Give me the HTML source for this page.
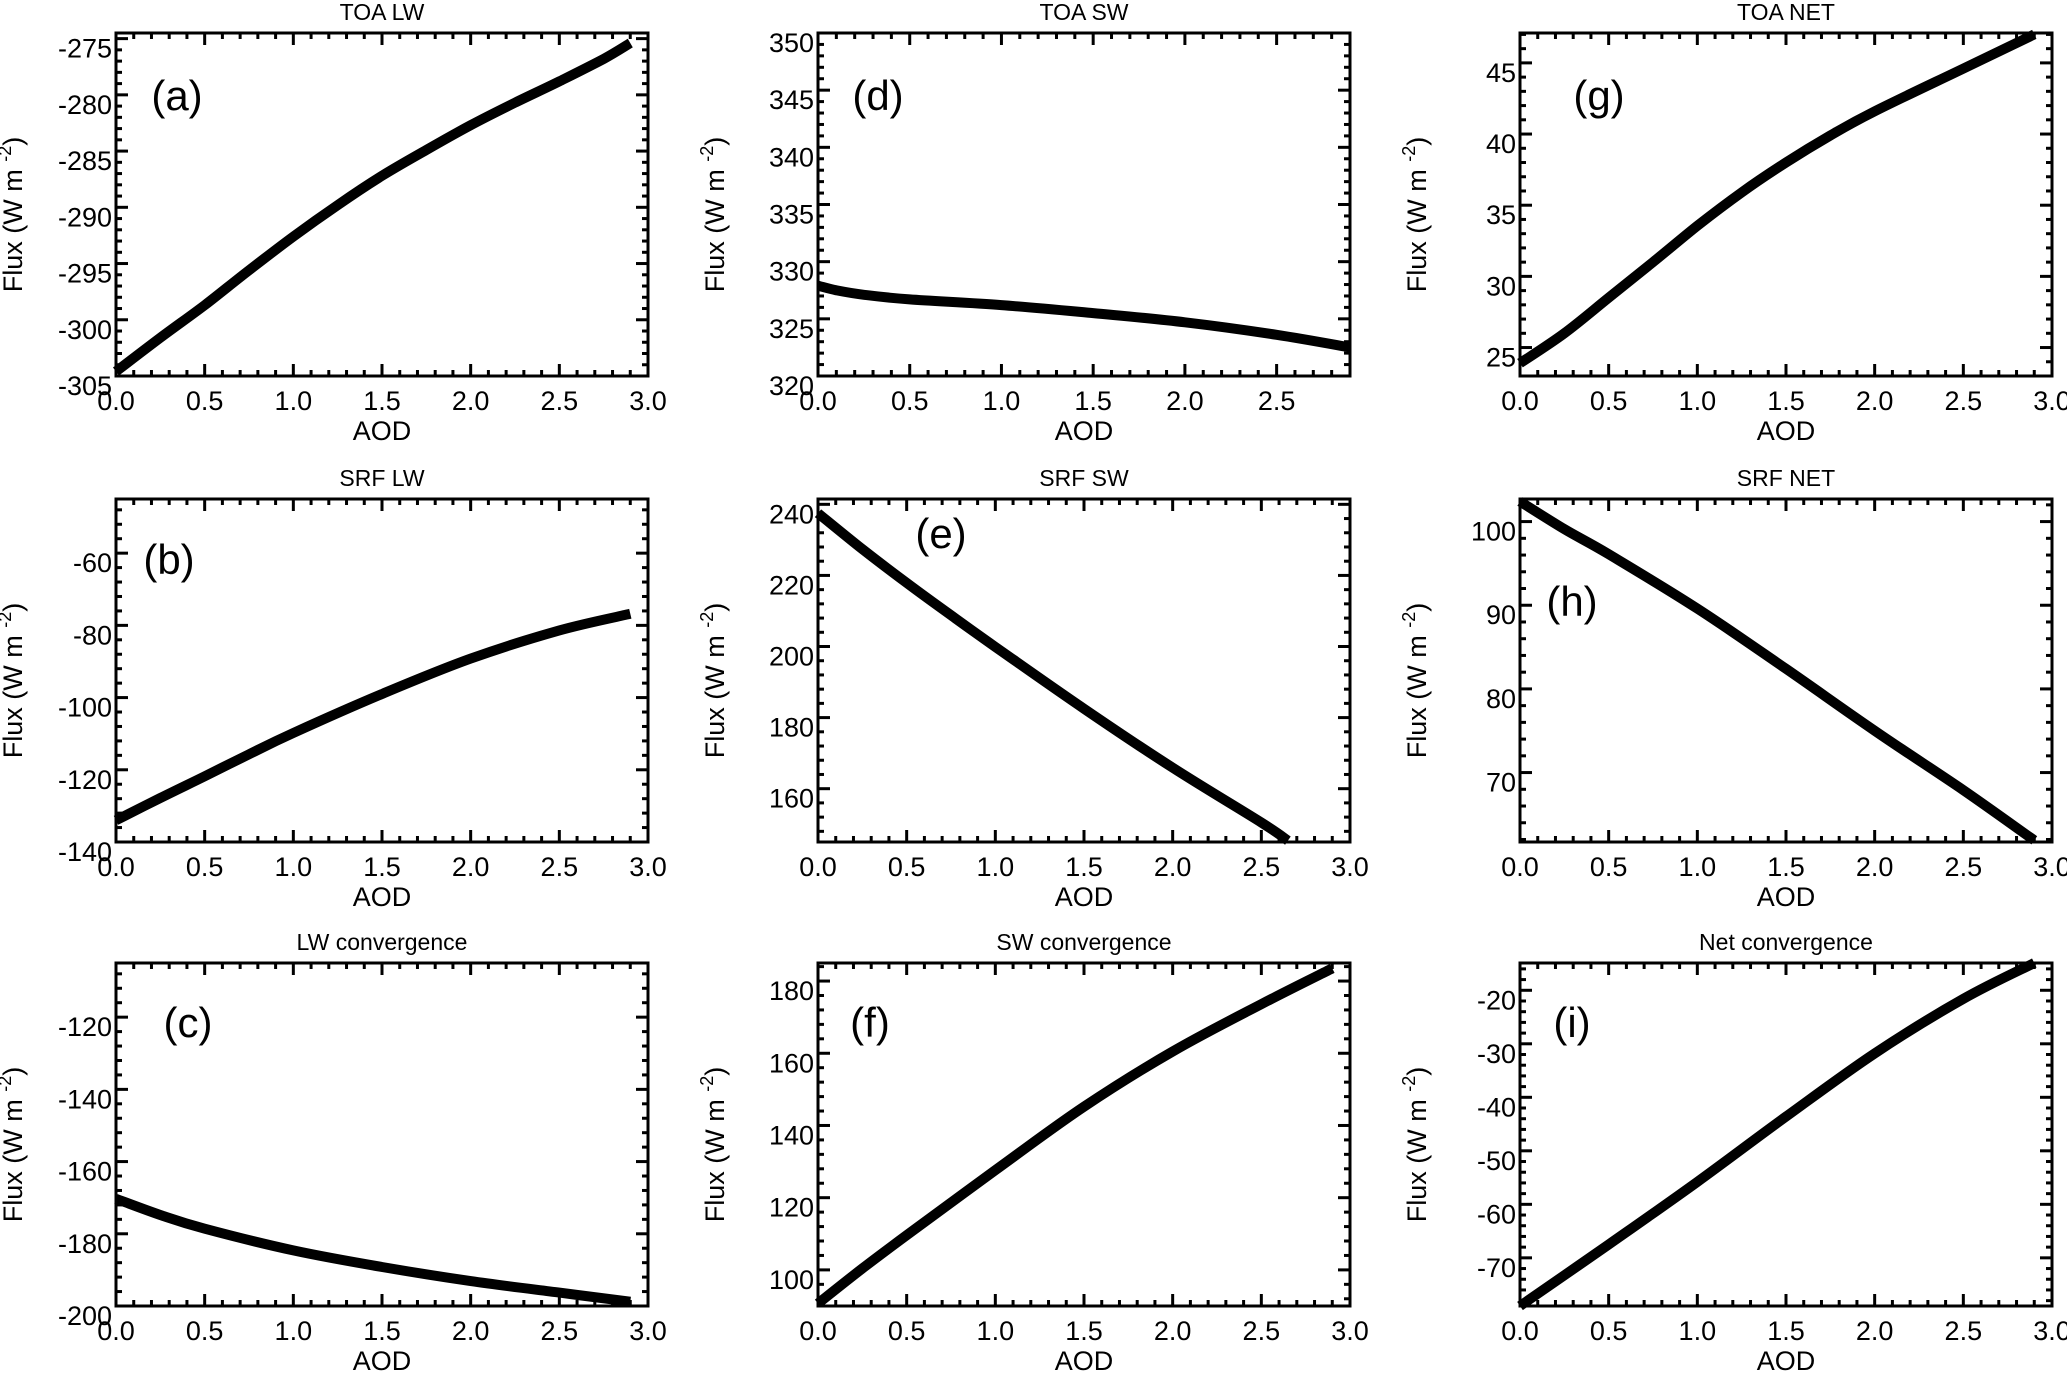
<!DOCTYPE html>
<html><head><meta charset="utf-8"><style>
html,body{margin:0;padding:0;background:#fff;}
svg{display:block;font-family:"Liberation Sans",Arial,sans-serif;}
</style></head><body>
<svg id="fig" width="2067" height="1373" viewBox="0 0 2067 1373"></svg>
<script>
const aodA=[0,0.25,0.5,0.75,1.0,1.25,1.5,1.75,2.0,2.25,2.5,2.75,2.9];
const fluxA=[-304.6,-301.6,-298.7,-295.6,-292.6,-289.8,-287.2,-284.9,-282.7,-280.7,-278.8,-276.8,-275.4];
const aodB=[0,0.25,0.5,0.75,1.0,1.5,2.0,2.5,2.9];
const fluxB=[-134.0,-127.8,-121.8,-115.7,-109.8,-99.0,-89.2,-81.4,-76.8];
const aodC=[0,0.25,0.5,1.0,1.5,2.0,2.5,2.9];
const fluxC=[-170.3,-174.8,-178.6,-184.6,-189.2,-193.1,-196.3,-198.8];
const aodD=[0,0.1,0.25,0.5,1.0,1.5,2.0,2.5,2.9];
const fluxD=[327.9,327.5,327.1,326.7,326.2,325.5,324.7,323.6,322.5];
const aodE=[0,0.25,0.5,0.75,1.0,1.5,2.0,2.5,2.65];
const fluxE=[237.5,227.4,217.9,208.8,199.9,182.5,165.9,150.5,145.4];
const aodF=[0,0.25,0.5,1.0,1.5,2.0,2.5,2.9];
const fluxF=[90.7,100.4,109.6,127.6,145.2,160.5,173.6,183.5];
const aodG=[0,0.25,0.5,0.75,1.0,1.25,1.5,1.75,2.0,2.5,2.9];
const fluxG=[23.9,26.0,28.5,31.0,33.55,35.9,38.0,39.9,41.6,44.6,47.0];
const aodH=[0,0.25,0.5,1.0,1.5,2.0,2.5,2.9];
const fluxH=[102.4,99.1,96.1,89.6,82.4,75.0,67.9,61.9];
const aodI=[0,0.5,1.0,1.5,2.0,2.5,2.9];
const fluxI=[-79.0,-67.5,-55.8,-43.6,-31.8,-21.6,-14.9];
const yTicksA=[-305,-300,-295,-290,-285,-280,-275];
const yTicksB=[-140,-120,-100,-80,-60];
const yTicksC=[-200,-180,-160,-140,-120];
const yTicksD=[320,325,330,335,340,345,350];
const yTicksE=[160,180,200,220,240];
const yTicksF=[100,120,140,160,180];
const yTicksG=[25,30,35,40,45];
const yTicksH=[70,80,90,100];
const yTicksI=[-70,-60,-50,-40,-30,-20];
const xTicksFull=[0,0.5,1.0,1.5,2.0,2.5,3.0];
const xTicksShort=[0,0.5,1.0,1.5,2.0,2.5];

const NS="http://www.w3.org/2000/svg";
const svg=document.getElementById('fig');
function mk(tag,attrs,parent){const e=document.createElementNS(NS,tag);for(const k in attrs)e.setAttribute(k,attrs[k]);(parent||svg).appendChild(e);return e;}
function smoothPath(P){
  let d='M'+P[0][0].toFixed(1)+','+P[0][1].toFixed(1);
  for(let i=0;i<P.length-1;i++){
    const p0=P[i-1]||P[i],p1=P[i],p2=P[i+1],p3=P[i+2]||P[i+1];
    const c1=[p1[0]+(p2[0]-p0[0])/6,p1[1]+(p2[1]-p0[1])/6];
    const c2=[p2[0]-(p3[0]-p1[0])/6,p2[1]-(p3[1]-p1[1])/6];
    d+=' C'+c1.map(v=>v.toFixed(1)).join(',')+' '+c2.map(v=>v.toFixed(1)).join(',')+' '+p2[0].toFixed(1)+','+p2[1].toFixed(1);
  }
  return d;
}

const colX=[116,818,1520], rowY=[33,499,963], W=532, H=343;
const panels=[
 {key:'a',title:'TOA LW',c:0,r:0,xs:aodA,ys:fluxA,yt:yTicksA,ymin:-305,ymax:-274.5,ymaj:5,xmax:3.0,xt:xTicksFull,lx:177,ly:96},
 {key:'b',title:'SRF LW',c:0,r:1,xs:aodB,ys:fluxB,yt:yTicksB,ymin:-140,ymax:-45,ymaj:20,xmax:3.0,xt:xTicksFull,lx:169,ly:560},
 {key:'c',title:'LW  convergence',c:0,r:2,xs:aodC,ys:fluxC,yt:yTicksC,ymin:-200,ymax:-105,ymaj:20,xmax:3.0,xt:xTicksFull,lx:188,ly:1023},
 {key:'d',title:'TOA SW',c:1,r:0,xs:aodD,ys:fluxD,yt:yTicksD,ymin:320,ymax:350,ymaj:5,xmax:2.9,xt:xTicksShort,lx:878,ly:96},
 {key:'e',title:'SRF SW',c:1,r:1,xs:aodE,ys:fluxE,yt:yTicksE,ymin:145,ymax:241.5,ymaj:20,xmax:3.0,xt:xTicksFull,lx:941,ly:534},
 {key:'f',title:'SW  convergence',c:1,r:2,xs:aodF,ys:fluxF,yt:yTicksF,ymin:90,ymax:185,ymaj:20,xmax:3.0,xt:xTicksFull,lx:870,ly:1023},
 {key:'g',title:'TOA NET',c:2,r:0,xs:aodG,ys:fluxG,yt:yTicksG,ymin:23,ymax:47.1,ymaj:5,xmax:3.0,xt:xTicksFull,lx:1599,ly:96},
 {key:'h',title:'SRF NET',c:2,r:1,xs:aodH,ys:fluxH,yt:yTicksH,ymin:61.7,ymax:102.7,ymaj:10,xmax:3.0,xt:xTicksFull,lx:1572,ly:602},
 {key:'i',title:'Net  convergence',c:2,r:2,xs:aodI,ys:fluxI,yt:yTicksI,ymin:-79,ymax:-14.9,ymaj:10,xmax:3.0,xt:xTicksFull,lx:1572,ly:1023}
];

panels.forEach(p=>{
  const L=colX[p.c], T=rowY[p.r], R=L+W, B=T+H;
  const xs=v=>L+v/p.xmax*W;
  const ys=v=>B-(v-p.ymin)/(p.ymax-p.ymin)*H;
  const g=mk('g',{});
  
  
  const t=mk('text',{x:L+W/2,y:T-13,'text-anchor':'middle','font-size':23,fill:'#000'},g);
  t.textContent=p.title;
  
  
  const xstep=0.1;
  for(let i=0;i*xstep<=p.xmax+1e-6;i++){
    const v=i*xstep, x=xs(v), maj=(i%5===0), len=maj?12:6;
    const t1=mk('line',{x1:x,y1:B,x2:x,y2:B-len,stroke:'#000','stroke-width':3},g);
    
    
    const t2=mk('line',{x1:x,y1:T,x2:x,y2:T+len,stroke:'#000','stroke-width':3},g);
    
    
  }
  const ystep=p.ymaj/5;
  const start=Math.ceil((p.ymin-1e-6)/ystep);
  for(let i=start;i*ystep<=p.ymax+1e-6;i++){
    const v=i*ystep, y=ys(v), maj=(Math.abs(Math.round(v/p.ymaj)*p.ymaj-v)<1e-6), len=maj?12:6;
    const t1=mk('line',{x1:L,y1:y,x2:L+len,y2:y,stroke:'#000','stroke-width':3},g);
    
    
    const t2=mk('line',{x1:R,y1:y,x2:R-len,y2:y,stroke:'#000','stroke-width':3},g);
    
    
  }
  p.xt.forEach(v=>{
    const tx=mk('text',{x:xs(v),y:B+34,'text-anchor':'middle','font-size':27,fill:'#000'},g);
    tx.textContent=v.toFixed(1);
    
    
  });
  p.yt.forEach(v=>{
    const ty=mk('text',{x:L-4,y:ys(v)+19,'text-anchor':'end','font-size':27,fill:'#000'},g);
    ty.textContent=String(v);
    
    
  });
  const xl=mk('text',{x:L+W/2,y:B+64,'text-anchor':'middle','font-size':27,fill:'#000'},g);
  xl.textContent='AOD';
  
  
  const yx=L-94, yy=T+H/2+10;
  const yl=mk('text',{x:yx,y:yy,'text-anchor':'middle','font-size':27,fill:'#000',transform:`rotate(-90 ${yx} ${yy})`},g);
  yl.innerHTML='Flux (W m <tspan dy="-11" font-size="18">-2</tspan><tspan dy="11">)</tspan>';
  
  
  const P=p.xs.map((v,i)=>[xs(v),ys(p.ys[i])]);
  const line=mk('path',{d:smoothPath(P),fill:'none',stroke:'#000','stroke-width':10,'stroke-linejoin':'round','stroke-linecap':'butt'},g);
  
  
  const box=mk('rect',{x:L,y:T,width:W,height:H,fill:'none',stroke:'#000','stroke-width':3},g);
  
  
  const lab=mk('text',{x:p.lx,y:p.ly+14,'text-anchor':'middle','font-size':42,fill:'#000'},g);
  lab.textContent='('+p.key+')';
  
  
});
</script>
</body></html>
